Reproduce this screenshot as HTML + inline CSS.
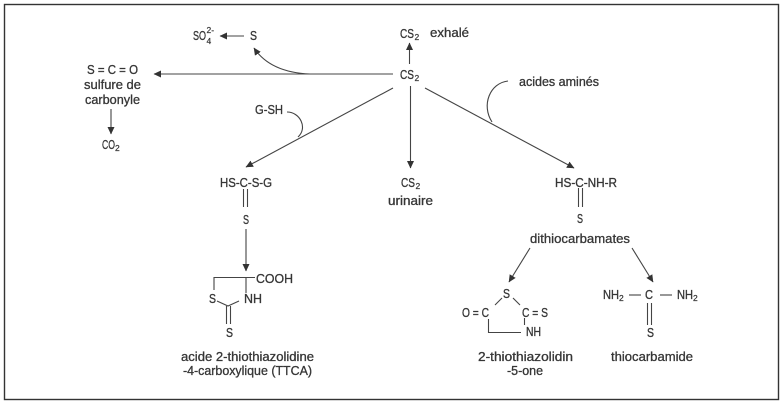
<!DOCTYPE html>
<html><head><meta charset="utf-8">
<style>
html,body{margin:0;padding:0;background:#fff;}
svg{display:block;}
text{font-family:"Liberation Sans",sans-serif;font-size:12.5px;fill:#363636;stroke:#363636;stroke-width:0.3px;}
.s{font-size:8.5px;stroke-width:0.2px;}
</style></head>
<body>
<svg width="783" height="404" viewBox="0 0 783 404" xmlns="http://www.w3.org/2000/svg">
<defs>
<marker id="a" markerWidth="8" markerHeight="8" refX="7" refY="3.5" orient="auto" markerUnits="userSpaceOnUse">
<path d="M0,0 L7.5,3.5 L0,7 z" fill="#333"/>
</marker>
</defs>
<rect x="4.5" y="4.5" width="774" height="395" fill="none" stroke="#333" stroke-width="1.4"/>
<g stroke="#444" stroke-width="1.1" fill="none">
<line x1="244" y1="36" x2="220" y2="36" marker-end="url(#a)"/>
<path d="M310 74 C 286 73 266 66 254 48" marker-end="url(#a)"/>
<line x1="393" y1="74" x2="154" y2="74" marker-end="url(#a)"/>
<line x1="409.5" y1="64" x2="409.5" y2="43" marker-end="url(#a)"/>
<line x1="410.5" y1="86" x2="410.5" y2="168" marker-end="url(#a)"/>
<line x1="393" y1="88" x2="246" y2="167" marker-end="url(#a)"/>
<line x1="425" y1="88" x2="574" y2="168" marker-end="url(#a)"/>
<path d="M287 112 C 300 112 308 128 298 137"/>
<path d="M508 81 C 490 83 481 105 492 122"/>
<line x1="111" y1="109" x2="111" y2="134" marker-end="url(#a)"/>
<line x1="243.5" y1="189" x2="243.5" y2="207"/>
<line x1="247.5" y1="189" x2="247.5" y2="207"/>
<line x1="246" y1="229" x2="246" y2="271" marker-end="url(#a)"/>
<path d="M214 290 V277.5 H255"/>
<line x1="246" y1="277.5" x2="246" y2="293"/>
<path d="M217 301 L228 306 L239 301"/>
<line x1="226.5" y1="306" x2="226.5" y2="324"/>
<line x1="230.5" y1="306" x2="230.5" y2="324"/>
<line x1="578.5" y1="188" x2="578.5" y2="207"/>
<line x1="582.5" y1="188" x2="582.5" y2="207"/>
<line x1="530" y1="248" x2="509" y2="282" marker-end="url(#a)"/>
<line x1="632" y1="248" x2="653" y2="282" marker-end="url(#a)"/>
<line x1="495" y1="305" x2="502" y2="298"/>
<line x1="513" y1="298" x2="520" y2="305"/>
<path d="M488.5 319 V332.5 H521"/>
<line x1="524.5" y1="318" x2="524.5" y2="325"/>
<line x1="629" y1="295" x2="641" y2="295"/>
<line x1="660" y1="295" x2="672" y2="295"/>
<line x1="647.5" y1="303" x2="647.5" y2="325"/>
<line x1="651.5" y1="303" x2="651.5" y2="325"/>
</g>
<g>
<text x="193" y="40" textLength="13" lengthAdjust="spacingAndGlyphs">SO</text>
<text class="s" x="206.5" y="33">2-</text>
<text class="s" x="206.5" y="44">4</text>
<text x="250" y="40" textLength="7" lengthAdjust="spacingAndGlyphs">S</text>
<text x="400" y="38" textLength="14" lengthAdjust="spacingAndGlyphs">CS</text>
<text class="s" x="414.5" y="40">2</text>
<text x="430" y="37" textLength="39" lengthAdjust="spacingAndGlyphs">exhalé</text>
<text x="400" y="79" textLength="14" lengthAdjust="spacingAndGlyphs">CS</text>
<text class="s" x="414.5" y="81">2</text>
<text x="519" y="86" textLength="80" lengthAdjust="spacingAndGlyphs">acides aminés</text>
<text x="87" y="74" textLength="51" lengthAdjust="spacingAndGlyphs">S = C = O</text>
<text x="84" y="89" textLength="57" lengthAdjust="spacingAndGlyphs">sulfure de</text>
<text x="85" y="104" textLength="55" lengthAdjust="spacingAndGlyphs">carbonyle</text>
<text x="102" y="149" textLength="13" lengthAdjust="spacingAndGlyphs">CO</text>
<text class="s" x="115" y="151">2</text>
<text x="255" y="114" textLength="28" lengthAdjust="spacingAndGlyphs">G-SH</text>
<text x="220" y="187" textLength="52" lengthAdjust="spacingAndGlyphs">HS-C-S-G</text>
<text x="243" y="224" textLength="6" lengthAdjust="spacingAndGlyphs">S</text>
<text x="401" y="187" textLength="14" lengthAdjust="spacingAndGlyphs">CS</text>
<text class="s" x="415.5" y="189">2</text>
<text x="388" y="205" textLength="45" lengthAdjust="spacingAndGlyphs">urinaire</text>
<text x="555" y="187" textLength="62" lengthAdjust="spacingAndGlyphs">HS-C-NH-R</text>
<text x="577" y="223" textLength="6" lengthAdjust="spacingAndGlyphs">S</text>
<text x="530" y="243" textLength="100" lengthAdjust="spacingAndGlyphs">dithiocarbamates</text>
<text x="256" y="283" textLength="37" lengthAdjust="spacingAndGlyphs">COOH</text>
<text x="209" y="303" textLength="7" lengthAdjust="spacingAndGlyphs">S</text>
<text x="244" y="303" textLength="18" lengthAdjust="spacingAndGlyphs">NH</text>
<text x="226" y="337" textLength="7" lengthAdjust="spacingAndGlyphs">S</text>
<text x="181" y="361" textLength="133" lengthAdjust="spacingAndGlyphs">acide 2-thiothiazolidine</text>
<text x="183" y="375" textLength="129" lengthAdjust="spacingAndGlyphs">-4-carboxylique (TTCA)</text>
<text x="503" y="298" textLength="7" lengthAdjust="spacingAndGlyphs">S</text>
<text x="462" y="317" textLength="27" lengthAdjust="spacingAndGlyphs">O = C</text>
<text x="522" y="317" textLength="26" lengthAdjust="spacingAndGlyphs">C = S</text>
<text x="526" y="336" textLength="15" lengthAdjust="spacingAndGlyphs">NH</text>
<text x="478" y="361" textLength="95" lengthAdjust="spacingAndGlyphs">2-thiothiazolidin</text>
<text x="507" y="375" textLength="36" lengthAdjust="spacingAndGlyphs">-5-one</text>
<text x="603" y="299" textLength="16" lengthAdjust="spacingAndGlyphs">NH</text>
<text class="s" x="619" y="301">2</text>
<text x="645" y="299" textLength="8" lengthAdjust="spacingAndGlyphs">C</text>
<text x="677" y="299" textLength="16" lengthAdjust="spacingAndGlyphs">NH</text>
<text class="s" x="693" y="301">2</text>
<text x="647" y="337" textLength="7" lengthAdjust="spacingAndGlyphs">S</text>
<text x="611" y="361" textLength="82" lengthAdjust="spacingAndGlyphs">thiocarbamide</text>
</g>
</svg>
</body></html>
